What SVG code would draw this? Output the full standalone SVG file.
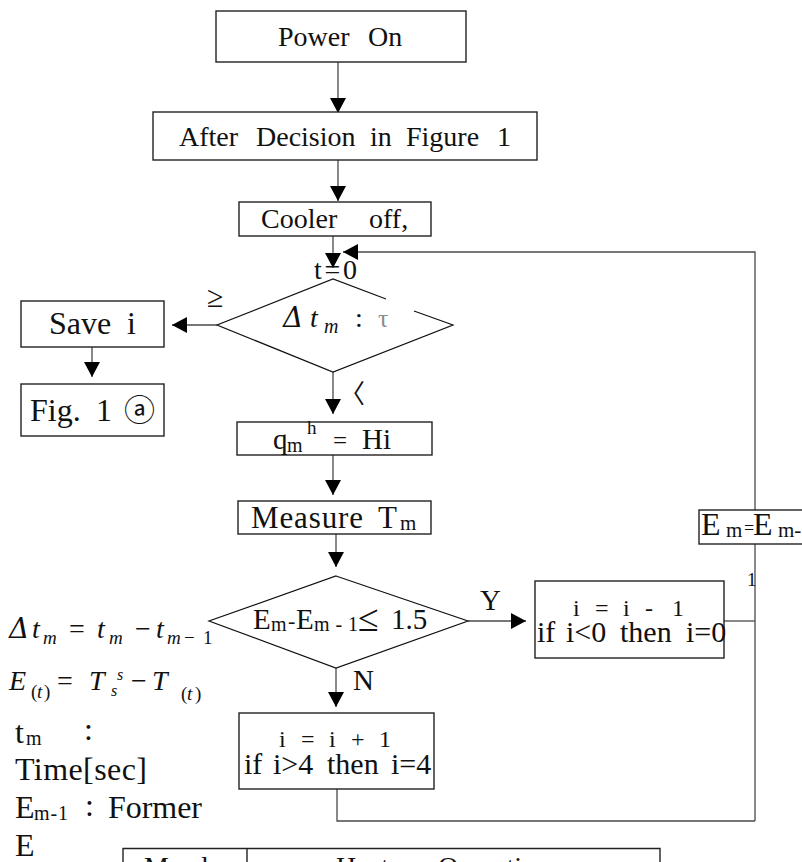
<svg xmlns="http://www.w3.org/2000/svg" width="802" height="862" viewBox="0 0 802 862">
<defs>
<style>
.box{fill:#fff;stroke:#222;stroke-width:1.4}
.dia{fill:none;stroke:#111;stroke-width:1.2}
.conn{fill:none;stroke:#4a4a4a;stroke-width:1.3}
.t{font-family:"Liberation Serif","Noto Sans CJK KR",serif;fill:#111}
.mi{font-style:italic}
.up{font-style:normal}
.dj{font-family:"DejaVu Serif",serif}
.cjk{font-family:"Noto Sans CJK KR",sans-serif}
</style>
<marker id="ah" viewBox="0 0 15 16" markerWidth="15" markerHeight="16" refX="15" refY="8" orient="auto" markerUnits="userSpaceOnUse">
<path d="M0,0 L15,8 L0,16 z" fill="#000"/>
</marker>
</defs>
<rect width="802" height="862" fill="#fff"/>

<g id="connectors">
<path class="conn" d="M338,62 V113" marker-end="url(#ah)"/>
<path class="conn" d="M338,160 V201" marker-end="url(#ah)"/>
<path class="conn" d="M333,236 V268" marker-end="url(#ah)"/>
<path class="conn" d="M755,821 V544"/>
<path class="conn" d="M755,510 V252 H343" marker-end="url(#ah)"/>
<path class="conn" d="M217,325 H172" marker-end="url(#ah)"/>
<path class="conn" d="M92,347 V377" marker-end="url(#ah)"/>
<path class="conn" d="M333,372 V414" marker-end="url(#ah)"/>
<path class="conn" d="M333,455 V495" marker-end="url(#ah)"/>
<path class="conn" d="M336,534 V567" marker-end="url(#ah)"/>
<path class="conn" d="M468,621 H526" marker-end="url(#ah)"/>
<path class="conn" d="M336,668 V707" marker-end="url(#ah)"/>
<path class="conn" d="M337,789 V821 H755"/>
<path class="conn" d="M724,621 H755"/>
<text class="t" x="207" y="307" font-size="30">≥</text>
<text class="t cjk" x="339" y="403" font-size="26">〈</text>
<text class="t" x="480" y="610" font-size="29">Y</text>
<text class="t" x="353" y="690" font-size="29">N</text>
</g>

<g id="power-on">
<rect class="box" x="216" y="11" width="250" height="51"/>
<text class="t" y="46" font-size="28"><tspan x="278">Power</tspan><tspan x="368">On</tspan></text>
</g>

<g id="after-decision">
<rect class="box" x="153" y="112" width="384" height="48"/>
<text class="t" y="146" font-size="28"><tspan x="179">After</tspan><tspan x="256">Decision</tspan><tspan x="370">in</tspan><tspan x="406">Figure</tspan><tspan x="497">1</tspan></text>
</g>

<g id="cooler-off">
<rect class="box" x="239" y="202" width="192" height="34"/>
<text class="t" y="228" font-size="28"><tspan x="261">Cooler</tspan><tspan x="369">off,</tspan></text>
<text class="t" x="314" y="279" font-size="28" textLength="43">t=0</text>
</g>

<g id="decision-dt">
<path class="dia" d="M386,299 L333,279 L217,325 L333,372 L453,325 L414,311"/>
<text class="t mi" y="327" font-size="28"><tspan class="dj" x="283">Δ</tspan><tspan x="310">t</tspan><tspan x="324" y="333" font-size="20">m</tspan><tspan class="up" x="355" y="327">:</tspan></text>
<text class="t" x="378" y="327" font-size="26" style="fill:#8c8c8c">τ</text>
</g>

<g id="save-i">
<rect class="box" x="21" y="301" width="143" height="46"/>
<text class="t" y="334" font-size="32"><tspan x="49">Save</tspan><tspan x="127">i</tspan></text>
</g>

<g id="fig1a">
<rect class="box" x="21" y="384" width="143" height="52"/>
<text class="t" y="421" font-size="32"><tspan x="30">Fig.</tspan><tspan x="96">1</tspan></text>
<text class="t cjk" x="124" y="421" font-size="31">ⓐ</text>
</g>

<g id="q-hi">
<rect class="box" x="237" y="422" width="195" height="33"/>
<text class="t" font-size="29"><tspan x="273" y="449">q</tspan><tspan x="287" y="452" font-size="20">m</tspan><tspan x="307" y="434" font-size="19">h</tspan><tspan x="333" y="449" font-size="25">=</tspan><tspan x="362" y="449">Hi</tspan></text>
</g>

<g id="measure">
<rect class="box" x="238" y="501" width="193" height="33"/>
<text class="t" font-size="31"><tspan x="251" y="528" textLength="112">Measure</tspan><tspan x="378" y="528">T</tspan><tspan x="400" y="530" font-size="21">m</tspan></text>
</g>

<g id="decision-e">
<path class="dia" d="M336,576 L468,621 L336,668 L209,621 Z"/>
<text class="t" font-size="29"><tspan x="253" y="629">E</tspan><tspan x="271" y="631" font-size="20">m</tspan><tspan x="288" y="628" font-size="22">-</tspan><tspan x="296" y="629">E</tspan><tspan x="314" y="631" font-size="20" textLength="44">m-1</tspan><tspan x="358" y="631" font-size="38">≤</tspan><tspan x="391" y="629">1.5</tspan></text>
</g>

<g id="dec-yes">
<rect class="box" x="535" y="581" width="189" height="77"/>
<text class="t" y="616" font-size="24"><tspan x="573">i</tspan><tspan x="595">=</tspan><tspan x="623">i</tspan><tspan x="645">-</tspan><tspan x="672">1</tspan></text>
<text class="t" y="642" font-size="30"><tspan x="537">if</tspan><tspan x="566">i&lt;0</tspan><tspan x="620">then</tspan><tspan x="686">i=0</tspan></text>
</g>

<g id="dec-no">
<rect class="box" x="239" y="713" width="195" height="76"/>
<text class="t" y="747" font-size="24"><tspan x="279">i</tspan><tspan x="301">=</tspan><tspan x="329">i</tspan><tspan x="351">+</tspan><tspan x="379">1</tspan></text>
<text class="t" y="774" font-size="30"><tspan x="244">if</tspan><tspan x="273">i&gt;4</tspan><tspan x="327">then</tspan><tspan x="391">i=4</tspan></text>
</g>

<g id="em-update">
<rect class="box" x="699" y="510" width="110" height="34"/>
<text class="t" font-size="32"><tspan x="701" y="535">E</tspan><tspan x="726" y="537" font-size="21">m</tspan><tspan x="744" y="534" font-size="18">=</tspan><tspan x="753" y="535">E</tspan><tspan x="778" y="537" font-size="21">m-</tspan></text>
<text class="t" x="747" y="586" font-size="19">1</text>
</g>

<g id="legend">
<text class="t mi" font-size="28"><tspan class="dj" x="9" y="638">Δ</tspan><tspan x="32" y="638">t</tspan><tspan x="43" y="644" font-size="19">m</tspan><tspan class="up" x="69" y="638">=</tspan><tspan x="97" y="638">t</tspan><tspan x="109" y="644" font-size="19">m</tspan><tspan class="up" x="135" y="638">−</tspan><tspan x="156" y="638">t</tspan><tspan x="167" y="644" font-size="19">m</tspan><tspan class="up" x="184" y="644" font-size="19">−</tspan><tspan class="up" x="203" y="644" font-size="19">1</tspan></text>
<text class="t mi" font-size="28"><tspan x="9" y="690">E</tspan><tspan class="up" x="31" y="698" font-size="19">(</tspan><tspan x="37" y="698" font-size="19">t</tspan><tspan class="up" x="44" y="698" font-size="19">)</tspan><tspan class="up" x="57" y="690">=</tspan><tspan x="89" y="690">T</tspan><tspan x="117" y="680" font-size="16">s</tspan><tspan x="111" y="696" font-size="16">s</tspan><tspan class="up" x="131" y="690">−</tspan><tspan x="152" y="690">T</tspan><tspan class="up" x="181" y="700" font-size="19">(</tspan><tspan x="187" y="700" font-size="19">t</tspan><tspan class="up" x="195" y="700" font-size="19">)</tspan></text>
<text class="t" font-size="32"><tspan x="15" y="743">t</tspan><tspan x="26" y="745" font-size="20">m</tspan><tspan x="84" y="740">:</tspan></text>
<text class="t" x="15" y="780" font-size="32" textLength="132">Time[sec]</text>
<text class="t" font-size="32"><tspan x="15" y="818">E</tspan><tspan x="34" y="820" font-size="20" textLength="34">m-1</tspan><tspan x="85" y="816">:</tspan><tspan x="108" y="818" textLength="94">Former</tspan></text>
<text class="t" x="15" y="856" font-size="32">E</text>
</g>

<g id="mode-table">
<path d="M123,870 V848.5 H660 V870 M247,848.5 V870" fill="none" stroke="#222" stroke-width="1.4"/>
<text class="t" x="144" y="876" font-size="28" textLength="82">Mode</text>
<text class="t" y="876" font-size="28"><tspan x="336">Heater</tspan><tspan x="438">Operation</tspan></text>
</g>
</svg>
